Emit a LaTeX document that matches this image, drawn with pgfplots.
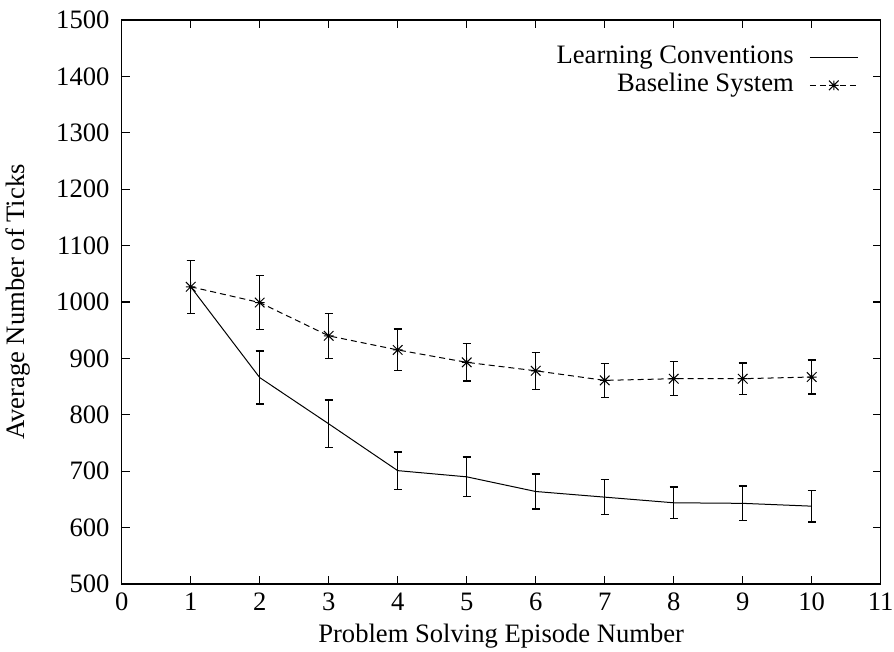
\documentclass[border=0pt]{standalone}
\usepackage{fontspec}
\setmainfont{Liberation Serif}
\usepackage{pgfplots}
\pgfplotsset{compat=1.18}
\usetikzlibrary{calc}
\pgfdeclareplotmark{gstar}{%
  \pgfpathmoveto{\pgfqpoint{-\pgfplotmarksize}{0pt}}\pgfpathlineto{\pgfqpoint{\pgfplotmarksize}{0pt}}%
  \pgfpathmoveto{\pgfqpoint{0pt}{-\pgfplotmarksize}}\pgfpathlineto{\pgfqpoint{0pt}{\pgfplotmarksize}}%
  \pgfpathmoveto{\pgfqpoint{-\pgfplotmarksize}{-\pgfplotmarksize}}\pgfpathlineto{\pgfqpoint{\pgfplotmarksize}{\pgfplotmarksize}}%
  \pgfpathmoveto{\pgfqpoint{-\pgfplotmarksize}{\pgfplotmarksize}}\pgfpathlineto{\pgfqpoint{\pgfplotmarksize}{-\pgfplotmarksize}}%
  \pgfusepathqstroke}
\begin{document}
\fontsize{13.3}{16}\selectfont
\begin{tikzpicture}
\begin{axis}[
  scale only axis, width=379.5pt, height=282pt,
  xmin=0, xmax=11, ymin=500, ymax=1500,
  xtick={0,1,...,11}, ytick={500,600,...,1500},
  tick align=inside, major tick length=4pt, tick pos=both,
  /pgf/number format/assume math mode=true,
  /pgf/number format/1000 sep={},
  font=\fontsize{13.3}{16}\selectfont,
  tick label style={font=\fontsize{13.3}{16}\selectfont},
  yticklabel style={xshift=-1.5pt},
  axis line style={line width=0.7pt},
  every tick/.style={line width=0.6pt, black},
  xlabel={Problem Solving Episode Number},
  ylabel={Average Number of Ticks},
  xlabel style={at={(axis description cs:0.5,-0.0922)}, anchor=center},
  ylabel style={at={(axis description cs:-0.137,0.5)}, anchor=center},
  legend style={at={(axis description cs:1,1)}, anchor=north east, draw=none, fill=none,
    xshift=-8pt, yshift=-9.5pt, row sep=0pt,
    nodes={text height=9.5pt, text depth=3pt, inner sep=0.75pt},
    /tikz/every odd column/.append style={column sep=7pt},
    font=\fontsize{13.3}{16}\selectfont},
  legend cell align=right, legend plot pos=right,
  legend image code/.code={\draw[mark repeat=2,mark phase=2,#1] plot coordinates {(0pt,0pt) (12pt,0pt) (24pt,0pt)};},
  error bars/error bar style={line width=0.65pt, black, solid},
  error bars/error mark=-,
  error bars/error mark options={rotate=90, line width=0.65pt, black, solid, mark size=2pt},
]
\addplot[black, line width=0.5pt, mark=none,
  error bars/.cd, y dir=both, y explicit]
  coordinates {
  (1,1027) +- (0,47)
  (2,866) +- (0,47)
  (3,784) +- (0,42)
  (4,701) +- (0,33)
  (5,690) +- (0,35)
  (6,664) +- (0,31)
  (7,654) +- (0,31)
  (8,644) +- (0,28)
  (9,643) +- (0,31)
  (10,638) +- (0,28)
  };
\addlegendentry{Learning Conventions}
\addplot[black, line width=0.5pt, dash pattern=on 3pt off 2pt, mark=gstar, mark size=2.4pt,
  mark options={solid, line width=0.5pt},
  error bars/.cd, y dir=both, y explicit]
  coordinates {
  (1,1027) +- (0,47)
  (2,999) +- (0,48)
  (3,940) +- (0,40)
  (4,915) +- (0,37)
  (5,893) +- (0,33)
  (6,878) +- (0,33)
  (7,861) +- (0,30)
  (8,864) +- (0,30)
  (9,864) +- (0,28)
  (10,867) +- (0,30)
  };
\addlegendentry{Baseline System}
\end{axis}
\pgfresetboundingbox
\path[use as bounding box] ($(current axis.south west)+(-60.85pt,-34pt)$) rectangle ($(current axis.north east)+(6.65pt,10pt)$);
\end{tikzpicture}
\end{document}
